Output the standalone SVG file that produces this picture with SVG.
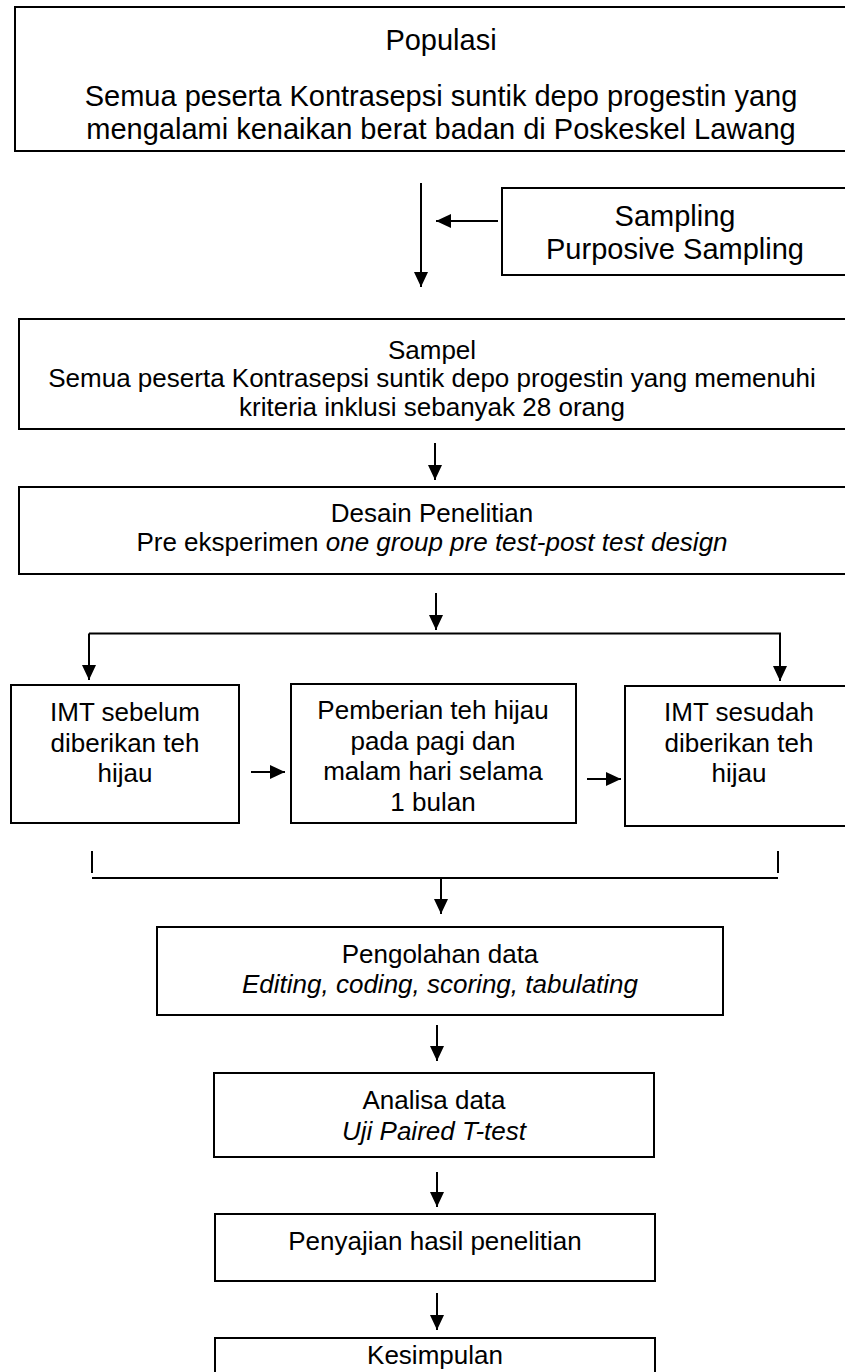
<svg xmlns="http://www.w3.org/2000/svg" width="845" height="1372" viewBox="0 0 845 1372">
<defs>
<marker id="ah" markerWidth="16" markerHeight="14" refX="15" refY="7" orient="auto" markerUnits="userSpaceOnUse">
<path d="M0,0 L15,7 L0,14 Z" fill="#000"/>
</marker>
<style>
.box{fill:#fff;stroke:#000;stroke-width:2}
.ln{fill:none;stroke:#000;stroke-width:2}
.t{font-family:"Liberation Sans",Arial,sans-serif;font-size:26px;fill:#000;text-anchor:middle}
.big{font-size:29px}
.i{font-style:italic}
</style>
</defs>
<rect width="845" height="1372" fill="#fff"/>
<g id="connectors">
<line class="ln" x1="421" y1="183" x2="421" y2="287" marker-end="url(#ah)"/>
<line class="ln" x1="498" y1="221" x2="436" y2="221" marker-end="url(#ah)"/>
<line class="ln" x1="435" y1="443" x2="435" y2="480" marker-end="url(#ah)"/>
<line class="ln" x1="436" y1="593" x2="436" y2="630" marker-end="url(#ah)"/>
<polyline class="ln" points="89,633.5 780,633.5 780,681" marker-end="url(#ah)"/>
<line class="ln" x1="89" y1="633.5" x2="89" y2="680" marker-end="url(#ah)"/>
<line class="ln" x1="251" y1="772" x2="285" y2="772" marker-end="url(#ah)"/>
<line class="ln" x1="587" y1="779" x2="621" y2="779" marker-end="url(#ah)"/>
<line class="ln" x1="92" y1="851" x2="92" y2="873"/>
<line class="ln" x1="778" y1="851" x2="778" y2="873"/>
<line class="ln" x1="92" y1="878" x2="778" y2="878"/>
<line class="ln" x1="441" y1="878" x2="441" y2="914" marker-end="url(#ah)"/>
<line class="ln" x1="437" y1="1025" x2="437" y2="1061" marker-end="url(#ah)"/>
<line class="ln" x1="437" y1="1172" x2="437" y2="1207" marker-end="url(#ah)"/>
<line class="ln" x1="437" y1="1293" x2="437" y2="1330" marker-end="url(#ah)"/>
</g>
<g id="populasi">
<rect class="box" x="15" y="7" width="860" height="144"/>
<text class="t big" x="441" y="50">Populasi</text>
<text class="t big" x="441" y="106">Semua peserta Kontrasepsi suntik depo progestin yang</text>
<text class="t big" x="441" y="139">mengalami kenaikan berat badan di Poskeskel Lawang</text>
</g>
<g id="sampling">
<rect class="box" x="502" y="188" width="347" height="87"/>
<text class="t big" x="675" y="226">Sampling</text>
<text class="t big" x="675" y="259">Purposive Sampling</text>
</g>
<g id="sampel">
<rect class="box" x="19" y="319" width="827" height="110"/>
<text class="t" x="432" y="359">Sampel</text>
<text class="t" x="432" y="387">Semua peserta Kontrasepsi suntik depo progestin yang memenuhi</text>
<text class="t" x="432" y="416">kriteria inklusi sebanyak 28 orang</text>
</g>
<g id="desain">
<rect class="box" x="19" y="487" width="827" height="87"/>
<text class="t" x="432" y="522">Desain Penelitian</text>
<text class="t" x="432" y="551">Pre eksperimen <tspan class="i">one group pre test-post test design</tspan></text>
</g>
<g id="imt-sebelum">
<rect class="box" x="11" y="685" width="228" height="138"/>
<text class="t" x="125" y="721">IMT sebelum</text>
<text class="t" x="125" y="752">diberikan teh</text>
<text class="t" x="125" y="782">hijau</text>
</g>
<g id="pemberian">
<rect class="box" x="291" y="684" width="285" height="139"/>
<text class="t" x="433" y="719">Pemberian teh hijau</text>
<text class="t" x="433" y="749.5">pada pagi dan</text>
<text class="t" x="433" y="780">malam hari selama</text>
<text class="t" x="433" y="811">1 bulan</text>
</g>
<g id="imt-sesudah">
<rect class="box" x="625" y="686" width="228" height="140"/>
<text class="t" x="739" y="721">IMT sesudah</text>
<text class="t" x="739" y="752">diberikan teh</text>
<text class="t" x="739" y="782">hijau</text>
</g>
<g id="pengolahan">
<rect class="box" x="157" y="927" width="566" height="88"/>
<text class="t" x="440" y="963">Pengolahan data</text>
<text class="t i" x="440" y="993">Editing, coding, scoring, tabulating</text>
</g>
<g id="analisa">
<rect class="box" x="214" y="1073" width="440" height="84"/>
<text class="t" x="434" y="1109">Analisa data</text>
<text class="t i" x="434" y="1140">Uji Paired T-test</text>
</g>
<g id="penyajian">
<rect class="box" x="215" y="1214" width="440" height="67"/>
<text class="t" x="435" y="1250">Penyajian hasil penelitian</text>
</g>
<g id="kesimpulan">
<rect class="box" x="215" y="1338" width="440" height="60"/>
<text class="t" x="435" y="1364">Kesimpulan</text>
</g>
</svg>
